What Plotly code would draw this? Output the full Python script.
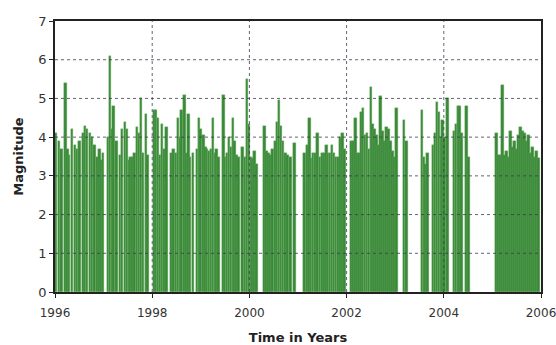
import plotly.graph_objects as go

# Event times (decimal years) and magnitudes
years = [
    1996.02, 1996.08, 1996.14, 1996.21, 1996.25, 1996.29, 1996.35, 1996.41, 1996.45, 1996.51,
    1996.58, 1996.62, 1996.66, 1996.72, 1996.76, 1996.82, 1996.87, 1996.91, 1996.95, 1996.99,
    1997.09, 1997.13, 1997.17, 1997.21, 1997.26, 1997.34, 1997.38, 1997.44, 1997.48, 1997.52,
    1997.56, 1997.60, 1997.63, 1997.69, 1997.73, 1997.77, 1997.81, 1997.87, 1997.91,
    1998.04, 1998.08, 1998.12, 1998.16, 1998.20, 1998.26, 1998.30,
    1998.40, 1998.44, 1998.49, 1998.53, 1998.57, 1998.61, 1998.66, 1998.70, 1998.74, 1998.78, 1998.84,
    1998.92, 1998.96, 1999.00, 1999.05, 1999.09, 1999.13, 1999.17, 1999.21, 1999.25, 1999.29, 1999.33, 1999.37,
    1999.46, 1999.50, 1999.54, 1999.58, 1999.62, 1999.66, 1999.70, 1999.74, 1999.78,
    1999.86, 1999.91, 1999.95, 1999.99, 2000.03, 2000.07, 2000.11, 2000.15,
    2000.31, 2000.35, 2000.39, 2000.43, 2000.48, 2000.53, 2000.57, 2000.61, 2000.65, 2000.69, 2000.74, 2000.79, 2000.84,
    2000.93,
    2001.14, 2001.19, 2001.23, 2001.27, 2001.31, 2001.36, 2001.40, 2001.45, 2001.50, 2001.54, 2001.58,
    2001.62, 2001.66, 2001.70, 2001.74, 2001.78, 2001.83, 2001.87, 2001.91, 2001.95,
    2002.10, 2002.14, 2002.18, 2002.22, 2002.26, 2002.30, 2002.34, 2002.38, 2002.42, 2002.46,
    2002.50, 2002.54, 2002.58, 2002.62, 2002.66, 2002.70, 2002.74, 2002.78, 2002.82, 2002.86,
    2002.90, 2002.94, 2002.98, 2003.03,
    2003.18, 2003.23,
    2003.55, 2003.59, 2003.63, 2003.67, 2003.78, 2003.82, 2003.86, 2003.90, 2003.94, 2003.98,
    2004.02, 2004.07,
    2004.21, 2004.25, 2004.29, 2004.33, 2004.37, 2004.47, 2004.51,
    2005.09, 2005.13, 2005.17, 2005.21, 2005.25, 2005.29, 2005.33, 2005.37, 2005.41, 2005.45,
    2005.50, 2005.54, 2005.58, 2005.62, 2005.66, 2005.70, 2005.74, 2005.78, 2005.82, 2005.86,
    2005.91, 2005.95,
]

magnitudes = [
    4.1, 3.9, 3.7, 5.4, 3.7, 3.55, 4.2, 3.8, 3.7, 3.9,
    4.1, 4.3, 4.2, 4.1, 4.0, 3.8, 3.5, 3.7, 3.4, 3.6,
    4.0, 6.1, 4.2, 4.8, 3.9, 3.55, 4.2, 4.4, 4.2, 3.4,
    3.5, 3.5, 3.6, 4.25, 4.1, 5.0, 3.6, 4.6, 3.55,
    4.7, 4.7, 4.5, 3.55, 4.35, 3.7, 4.25,
    3.6, 3.7, 3.6, 4.5, 4.0, 4.7, 5.1, 3.6, 4.6, 3.5, 3.6,
    3.7, 4.5, 4.2, 4.05, 3.75, 3.7, 3.65, 3.7, 4.5, 3.6, 3.7, 3.5,
    5.1, 3.5, 3.6, 4.0, 3.75, 4.5, 3.9, 3.55, 3.5,
    3.75, 3.5, 5.5, 4.35, 3.5, 3.45, 3.65, 3.3,
    4.3, 3.65, 3.6, 3.55, 3.7, 3.9, 4.4, 4.95, 4.3, 3.9, 3.6, 3.55, 3.5,
    3.85,
    3.6, 3.8, 4.5, 3.45, 3.6, 3.6, 4.1, 3.5, 3.6, 3.6, 3.8,
    3.6, 3.6, 3.8, 3.6, 3.5, 3.5, 4.0, 4.1, 3.7,
    3.9, 3.9, 4.5, 3.6, 3.6, 4.65, 4.75, 4.05, 4.1, 3.7,
    5.3, 4.35, 4.2, 4.05, 3.8, 5.05, 4.15, 3.9, 4.25, 4.2,
    3.9, 3.65, 3.5, 4.75,
    4.45, 3.9,
    4.7, 3.5, 3.3, 3.6, 3.8, 4.1, 4.9, 4.65, 4.0, 4.45,
    4.0, 5.0,
    4.15, 4.35, 4.8, 4.8, 4.1, 4.8, 3.5,
    4.1, 3.55, 3.55, 5.35, 3.55, 3.65, 3.5, 4.15, 3.75, 3.9,
    3.7, 4.05, 4.25, 4.15, 4.1, 3.9, 4.05, 3.6, 3.75, 3.5,
    3.65, 3.45,
]

x_ticks = [1996, 1998, 2000, 2002, 2004, 2006]
y_ticks = [0, 1, 2, 3, 4, 5, 6, 7]

font_family = "DejaVu Sans, Verdana, sans-serif"

fig = go.Figure()
fig.add_trace(go.Bar(
    x=years,
    y=magnitudes,
    width=0.056,
    marker=dict(color="#3a883a", line=dict(color="#6db05f", width=0.4)),
    showlegend=False,
))

# dotted grid drawn over the bars, at the tick values
shapes = []
for yv in y_ticks[1:-1]:
    shapes.append(dict(type="line", xref="paper", x0=0, x1=1, yref="y", y0=yv, y1=yv,
                       line=dict(color="rgba(60,60,80,0.8)", width=1, dash="dot"), layer="above"))
for xv in x_ticks[1:-1]:
    shapes.append(dict(type="line", yref="paper", y0=0, y1=1, xref="x", x0=xv, x1=xv,
                       line=dict(color="rgba(60,60,80,0.8)", width=1, dash="dot"), layer="above"))

fig.update_layout(
    width=556, height=345,
    margin=dict(l=55, r=15, t=21, b=53, autoexpand=False),
    paper_bgcolor="white",
    plot_bgcolor="white",
    bargap=0,
    shapes=shapes,
    font=dict(family=font_family, color="#333333"),
)
fig.update_xaxes(
    range=[1996, 2006],
    tickvals=x_ticks,
    ticktext=[str(v) for v in x_ticks],
    showgrid=False, zeroline=False,
    showline=True, linecolor="#222222", linewidth=1.5, mirror=True,
    ticks="outside", ticklen=4, tickcolor="#222222",
    ticklabelstandoff=5, ticklabeloverflow="allow",
    tickfont=dict(size=12, color="#333333"),
    automargin=False,
    title=dict(text="<b>Time in Years</b>", font=dict(size=13, color="#222222"), standoff=14),
)
fig.update_yaxes(
    range=[0, 7],
    tickvals=y_ticks,
    showgrid=False, zeroline=False,
    showline=True, linecolor="#222222", linewidth=1.5, mirror=True,
    ticks="outside", ticklen=4, tickcolor="#222222",
    tickfont=dict(size=13, color="#333333"),
    automargin=False,
    title=dict(text="<b>Magnitude</b>", font=dict(size=13, color="#222222"), standoff=12),
)

fig.write_html("out.html", config={"displayModeBar": False},
               post_script="document.body.style.margin='0';")
